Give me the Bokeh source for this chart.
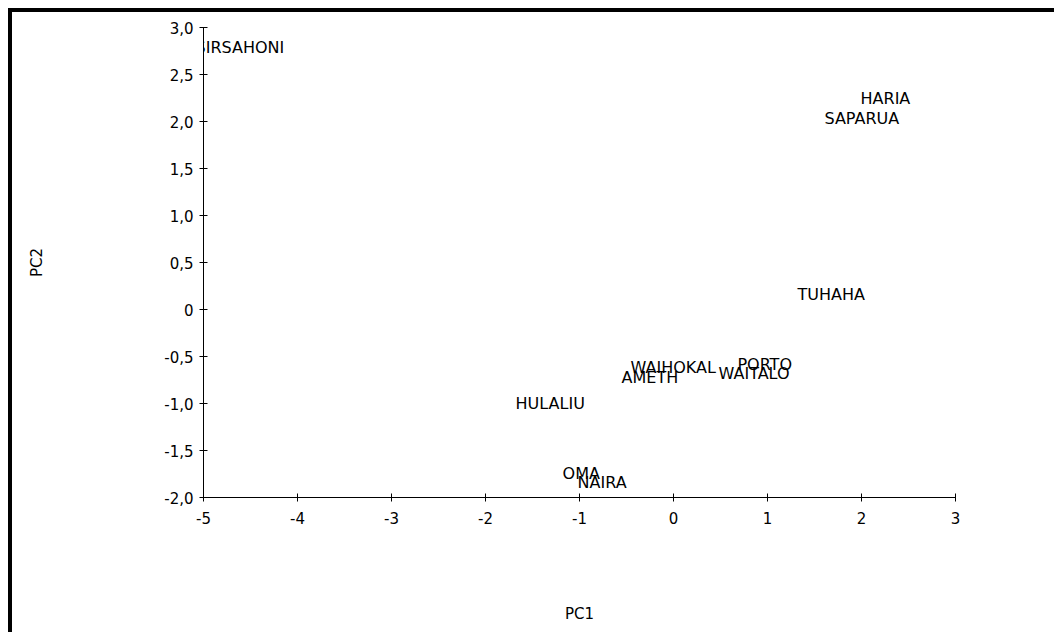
from bokeh.plotting import figure
from bokeh.models import Range1d, FixedTicker, Label
from bokeh.embed import file_html
from bokeh.resources import INLINE

# Data: PCA scores (label anchor positions)
names = ["SIRSAHONI", "HARIA", "SAPARUA", "TUHAHA", "PORTO", "WAITALO",
         "WAIHOKAL", "AMETH", "HULALIU", "OMA", "NAIRA"]
pc1 = [-5.085, 1.99, 1.606, 1.319, 0.68, 0.479, -0.457, -0.553, -1.68, -1.18, -1.02]
pc2 = [2.787, 2.245, 2.03, 0.16, -0.585, -0.68, -0.617, -0.723, -1.0, -1.745, -1.84]

x_ticks = [-5, -4, -3, -2, -1, 0, 1, 2, 3]
x_tick_labels = ["-5", "-4", "-3", "-2", "-1", "0", "1", "2", "3"]
y_ticks = [-2.0, -1.5, -1.0, -0.5, 0.0, 0.5, 1.0, 1.5, 2.0, 2.5, 3.0]
y_tick_labels = ["-2,0", "-1,5", "-1,0", "-0,5", "0", "0,5", "1,0", "1,5", "2,0", "2,5", "3,0"]

FONT = "DejaVu Sans"

p = figure(width=1046, height=624,
           x_range=Range1d(-5, 3), y_range=Range1d(-2, 3),
           output_backend="svg", toolbar_location=None,
           min_border_left=191, min_border_right=103,
           min_border_top=15, min_border_bottom=139)
p.styles = {"border-top": "4px solid black", "border-left": "4px solid black",
            "margin-left": "8px", "margin-top": "8px"}
p.outline_line_color = None
p.xgrid.visible = False
p.ygrid.visible = False
p.background_fill_color = "white"
p.border_fill_color = "white"

for nm, xv, yv in zip(names, pc1, pc2):
    p.add_layout(Label(x=xv, y=yv, text=nm, text_align="left",
                       text_baseline="middle", text_font=FONT,
                       text_font_size="16px", text_color="black"))

for ax in (p.xaxis[0], p.yaxis[0]):
    ax.axis_line_color = "black"
    ax.major_tick_line_color = "black"
    ax.major_tick_in = 4
    ax.major_tick_out = 4
    ax.minor_tick_line_color = None
    ax.major_label_text_font = FONT
    ax.major_label_text_font_size = "15px"
    ax.major_label_text_color = "black"
    ax.axis_label_text_font = FONT
    ax.axis_label_text_font_size = "15px"
    ax.axis_label_text_font_style = "normal"
    ax.axis_label_text_color = "black"

p.xaxis.ticker = FixedTicker(ticks=x_ticks)
p.xaxis.major_label_overrides = {t: l for t, l in zip(x_ticks, x_tick_labels)}
p.yaxis.ticker = FixedTicker(ticks=y_ticks)
p.yaxis.major_label_overrides = {t: l for t, l in zip(y_ticks, y_tick_labels)}
p.xaxis.axis_label = "PC1"
p.yaxis.axis_label = "PC2"
p.xaxis.major_label_standoff = 10
p.yaxis.major_label_standoff = 6
p.xaxis.axis_label_standoff = 78
p.yaxis.axis_label_standoff = 115

open("out.html", "w").write(file_html(p, INLINE))
